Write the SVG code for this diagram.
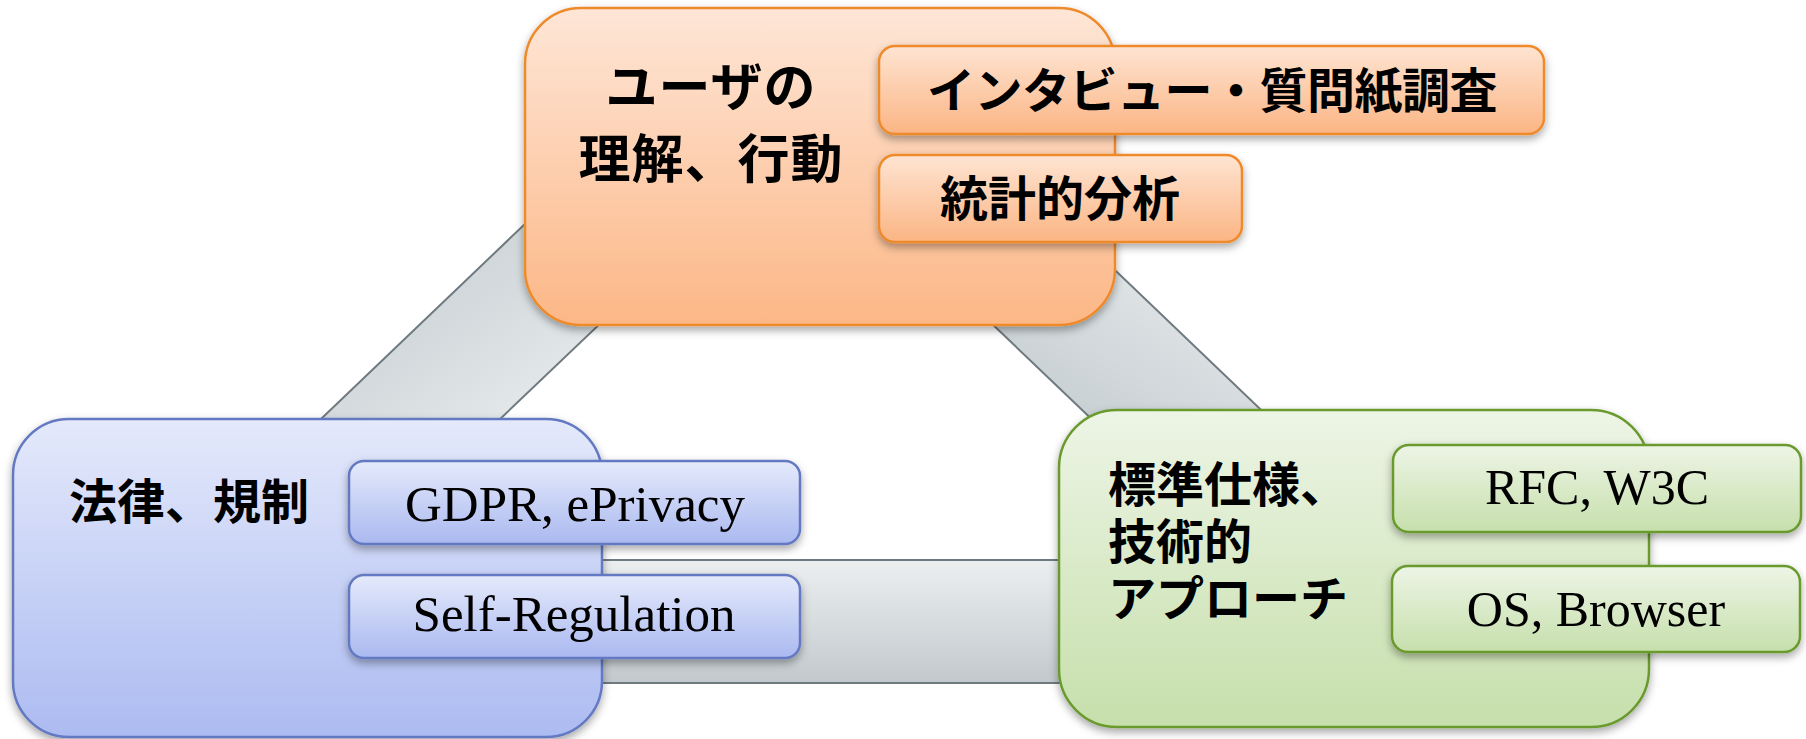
<svg xmlns="http://www.w3.org/2000/svg" width="1806" height="739" viewBox="0 0 1806 739">
<defs>
<style>
.band{stroke:#6f7a80;stroke-width:2}
.cjk{font-family:"Noto Sans CJK JP","Noto Sans CJK SC",sans-serif;font-weight:700;fill:#000}
.lat{font-family:"Liberation Serif","Times New Roman",serif;fill:#000}
.or{fill:url(#gOr);stroke:#ee8a2c;stroke-width:2.5}
.ors{fill:url(#gOrS);stroke:#ee8a2c;stroke-width:2.5}
.bl{fill:url(#gBl);stroke:#6479c2;stroke-width:2.5}
.bls{fill:url(#gBlS);stroke:#6479c2;stroke-width:2.5}
.gr{fill:url(#gGr);stroke:#6a9a2e;stroke-width:2.5}
.grs{fill:url(#gGrS);stroke:#6a9a2e;stroke-width:2.5}
</style>
<linearGradient id="gOr" x1="0" y1="0" x2="0" y2="1"><stop offset="0" stop-color="#fee6d7"/><stop offset="1" stop-color="#fcb786"/></linearGradient>
<linearGradient id="gOrS" x1="0" y1="0" x2="0" y2="1"><stop offset="0" stop-color="#fee4d2"/><stop offset="1" stop-color="#fbb584"/></linearGradient>
<linearGradient id="gBl" x1="0" y1="0" x2="0" y2="1"><stop offset="0" stop-color="#e4e9fb"/><stop offset="1" stop-color="#acbbf1"/></linearGradient>
<linearGradient id="gBlS" x1="0" y1="0" x2="0" y2="1"><stop offset="0" stop-color="#e5eafb"/><stop offset="1" stop-color="#aab9f0"/></linearGradient>
<linearGradient id="gGr" x1="0" y1="0" x2="0" y2="1"><stop offset="0" stop-color="#edf5e6"/><stop offset="1" stop-color="#c6dfab"/></linearGradient>
<linearGradient id="gGrS" x1="0" y1="0" x2="0" y2="1"><stop offset="0" stop-color="#edf5e6"/><stop offset="1" stop-color="#c6dfab"/></linearGradient>
<linearGradient id="gBandL" x1="0" y1="0" x2="1" y2="1"><stop offset="0" stop-color="#bcc5c9"/><stop offset="1" stop-color="#eef1f2"/></linearGradient>
<linearGradient id="gBandR" x1="0" y1="1" x2="1" y2="0"><stop offset="0" stop-color="#bcc5c9"/><stop offset="1" stop-color="#eef1f2"/></linearGradient>
<linearGradient id="gBandB" x1="0" y1="0" x2="0" y2="1"><stop offset="0" stop-color="#eceff0"/><stop offset="1" stop-color="#c2c9cd"/></linearGradient>
<filter id="sh" x="-10%" y="-10%" width="120%" height="130%"><feDropShadow dx="0" dy="4" stdDeviation="4" flood-color="#000" flood-opacity="0.35"/></filter>
</defs>
<rect width="1806" height="739" fill="#fff"/>
<g id="connectors">
<polygon class="band" fill="url(#gBandL)" points="299,440 550,200 625,300 478,440"/>
<polygon class="band" fill="url(#gBandR)" points="1094,250 1303,450 1124,450 967,300"/>
<polygon class="band" fill="url(#gBandB)" points="560,560 1100,560 1100,683 560,683"/>
</g>
<g id="node-user">
<rect class="or" x="525" y="8" width="590" height="317" rx="56" filter="url(#sh)"/>
<text class="cjk" font-size="52" text-anchor="middle" letter-spacing="1"><tspan x="711" y="106">ユーザの</tspan><tspan x="711" y="178">理解、行動</tspan></text>
</g>
<g id="node-interview">
<rect class="ors" x="879" y="46" width="665" height="88" rx="16" filter="url(#sh)"/>
<text class="cjk" x="1212" y="108" font-size="48" text-anchor="middle" letter-spacing="-0.5">インタビュー・質問紙調査</text>
</g>
<g id="node-stats">
<rect class="ors" x="879" y="155" width="363" height="87" rx="16" filter="url(#sh)"/>
<text class="cjk" x="1060" y="216" font-size="48" text-anchor="middle">統計的分析</text>
</g>
<g id="node-law">
<rect class="bl" x="13" y="419" width="589" height="318" rx="56" filter="url(#sh)"/>
<text class="cjk" x="69" y="519" font-size="48">法律、規制</text>
</g>
<g id="node-gdpr">
<rect class="bls" x="349" y="461" width="451" height="83" rx="15" filter="url(#sh)"/>
<text class="lat" x="575" y="521" font-size="51" text-anchor="middle">GDPR, ePrivacy</text>
</g>
<g id="node-selfreg">
<rect class="bls" x="349" y="575" width="451" height="83" rx="15" filter="url(#sh)"/>
<text class="lat" x="574" y="631" font-size="51" text-anchor="middle">Self-Regulation</text>
</g>
<g id="node-tech">
<rect class="gr" x="1059" y="410" width="590" height="317" rx="58" filter="url(#sh)"/>
<text class="cjk" font-size="48"><tspan x="1108" y="502">標準仕様、</tspan><tspan x="1108" y="559">技術的</tspan><tspan x="1108" y="616">アプローチ</tspan></text>
</g>
<g id="node-rfc">
<rect class="grs" x="1393" y="445" width="408" height="87" rx="16" filter="url(#sh)"/>
<text class="lat" x="1597" y="504" font-size="50" text-anchor="middle">RFC, W3C</text>
</g>
<g id="node-os">
<rect class="grs" x="1392" y="566" width="408" height="86" rx="16" filter="url(#sh)"/>
<text class="lat" x="1596" y="626" font-size="50" text-anchor="middle">OS, Browser</text>
</g>
</svg>
